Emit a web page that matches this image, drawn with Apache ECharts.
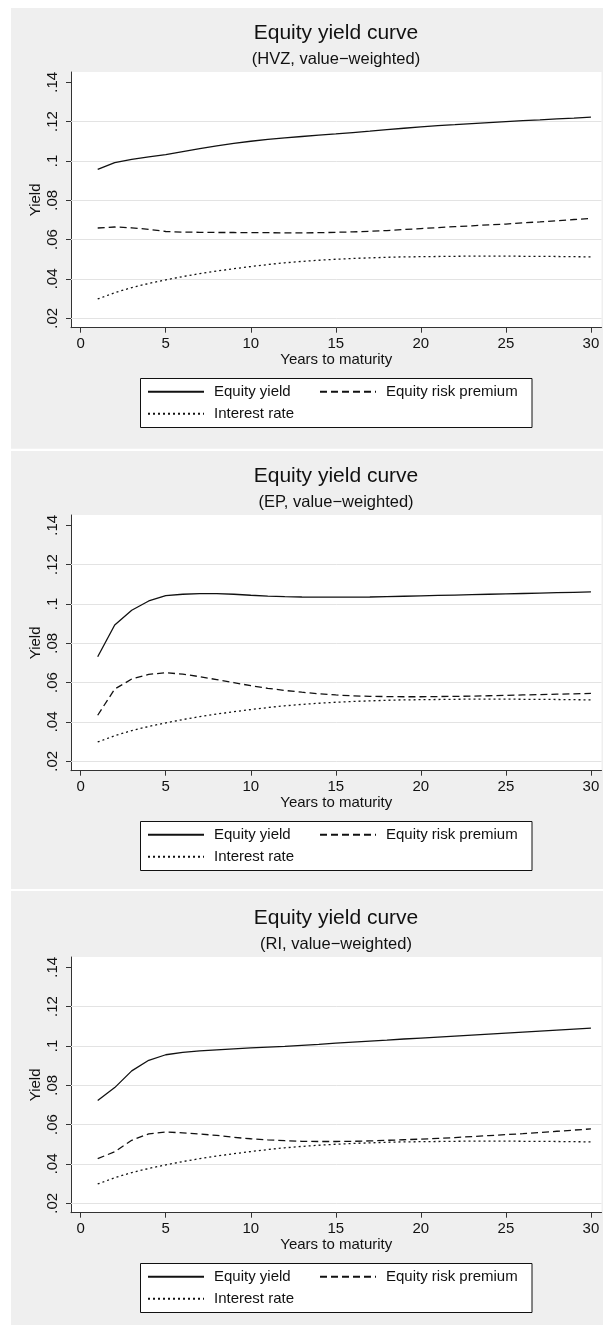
<!DOCTYPE html>
<html>
<head>
<meta charset="utf-8">
<title>Equity yield curve</title>
<script src="https://cdn.jsdelivr.net/npm/echarts@6/dist/echarts.min.js"></script>
<style>
  html, body { margin: 0; padding: 0; background: #ffffff; }
  #chart { width: 603px; height: 1325px; }
</style>
</head>
<body>
<div id="chart"></div>
<script>
// Maturities in years
const maturity = [1, 2, 3, 4, 5, 6, 7, 8, 9, 10, 11, 12, 13, 14, 15, 16, 17, 18, 19, 20, 21, 22, 23, 24, 25, 26, 27, 28, 29, 30];

// Interest rate (same term structure in every panel)
const interestRate = [0.0298, 0.0330, 0.0356, 0.0377, 0.0395, 0.0412, 0.0427, 0.0440, 0.0452, 0.0463,
                      0.0473, 0.0482, 0.0489, 0.0495, 0.0500, 0.0504, 0.0507, 0.0510, 0.0512, 0.0513,
                      0.0514, 0.0515, 0.0516, 0.0516, 0.0516, 0.0515, 0.0515, 0.0514, 0.0513, 0.0512];

// HVZ, value-weighted
const equityYieldHVZ = [0.0957, 0.0991, 0.1008, 0.1021, 0.1032, 0.1047, 0.1062, 0.1076, 0.1089, 0.1100,
                        0.1109, 0.1117, 0.1124, 0.1131, 0.1137, 0.1144, 0.1151, 0.1159, 0.1166, 0.1173,
                        0.1179, 0.1184, 0.1190, 0.1195, 0.1200, 0.1205, 0.1209, 0.1214, 0.1218, 0.1223];
const riskPremiumHVZ = [0.0659, 0.0664, 0.0660, 0.0652, 0.0641, 0.0638, 0.0637, 0.0636, 0.0636, 0.0635,
                        0.0635, 0.0634, 0.0634, 0.0635, 0.0637, 0.0639, 0.0642, 0.0646, 0.0651, 0.0656,
                        0.0661, 0.0666, 0.0670, 0.0675, 0.0679, 0.0685, 0.0690, 0.0696, 0.0702, 0.0708];

// EP, value-weighted
const equityYieldEP = [0.0731, 0.0893, 0.0968, 0.1015, 0.1042, 0.1049, 0.1052, 0.1052, 0.1049, 0.1044,
                       0.1040, 0.1037, 0.1035, 0.1034, 0.1034, 0.1034, 0.1035, 0.1037, 0.1039, 0.1041,
                       0.1043, 0.1045, 0.1047, 0.1049, 0.1051, 0.1053, 0.1055, 0.1057, 0.1059, 0.1061];
const riskPremiumEP = [0.0434, 0.0567, 0.0618, 0.0642, 0.0650, 0.0643, 0.0630, 0.0615, 0.0600, 0.0584,
                       0.0571, 0.0560, 0.0551, 0.0543, 0.0537, 0.0533, 0.0530, 0.0529, 0.0528, 0.0528,
                       0.0529, 0.0530, 0.0531, 0.0533, 0.0535, 0.0537, 0.0539, 0.0541, 0.0543, 0.0545];

// RI, value-weighted
const equityYieldRI = [0.0722, 0.0788, 0.0873, 0.0927, 0.0955, 0.0967, 0.0975, 0.0980, 0.0985, 0.0990,
                       0.0994, 0.0998, 0.1003, 0.1008, 0.1014, 0.1019, 0.1024, 0.1029, 0.1035, 0.1040,
                       0.1045, 0.1050, 0.1055, 0.1060, 0.1065, 0.1070, 0.1075, 0.1080, 0.1085, 0.1090];
const riskPremiumRI = [0.0427, 0.0462, 0.0520, 0.0553, 0.0562, 0.0558, 0.0552, 0.0545, 0.0535, 0.0528,
                       0.0522, 0.0518, 0.0515, 0.0514, 0.0514, 0.0515, 0.0517, 0.0520, 0.0523, 0.0526,
                       0.0530, 0.0534, 0.0539, 0.0544, 0.0549, 0.0554, 0.0560, 0.0566, 0.0572, 0.0578];

// Text and ticks
const chartTitle = 'Equity yield curve';
const panelSubtitles = ['(HVZ, value\u2212weighted)', '(EP, value\u2212weighted)', '(RI, value\u2212weighted)'];
const seriesNames = ['Equity yield', 'Equity risk premium', 'Interest rate'];
const xAxisTitle = 'Years to maturity';
const yAxisTitle = 'Yield';
const xTicks = [0, 5, 10, 15, 20, 25, 30];
const xTickLabels = ['0', '5', '10', '15', '20', '25', '30'];
const yTicks = [0.02, 0.04, 0.06, 0.08, 0.10, 0.12, 0.14];
const yTickLabels = ['.02', '.04', '.06', '.08', '.1', '.12', '.14'];
const yGridValues = [0.02, 0.04, 0.06, 0.08, 0.10, 0.12];

// ---- drawing ----
const FONT = "'Liberation Sans', Arial, Helvetica, sans-serif";
const INK = '#111111';
const AXIS = '#333333';

const panels = [
  { subtitle: panelSubtitles[0], equity: equityYieldHVZ, premium: riskPremiumHVZ },
  { subtitle: panelSubtitles[1], equity: equityYieldEP,  premium: riskPremiumEP },
  { subtitle: panelSubtitles[2], equity: equityYieldRI,  premium: riskPremiumRI }
];

const panelTop = [8, 451, 891];
const panelBottom = [448.7, 889, 1325];
const shift = [0, 443, 885];

function pairs(values) {
  return maturity.map((m, i) => [m, values[i]]);
}
function tickText(ticks, labels, v) {
  const i = ticks.findIndex(t => Math.abs(t - v) < 1e-9);
  return i >= 0 ? labels[i] : '';
}

const lineStyles = [
  { color: INK, width: 1.3, type: 'solid' },
  { color: INK, width: 1.3, type: [7, 4] },
  { color: INK, width: 1.3, type: [2, 3] }
];

const grids = [], xAxes = [], yAxes = [], series = [], titles = [], legends = [], graphics = [];

panels.forEach((pd, p) => {
  const o = shift[p];

  graphics.push({
    type: 'rect', z: -10, silent: true,
    shape: { x: 11, y: panelTop[p], width: 592, height: panelBottom[p] - panelTop[p] },
    style: { fill: '#efefef' }
  });
  graphics.push({
    type: 'rect', z: 2, silent: true,
    shape: { x: 140.5, y: 378.5 + o, width: 391.5, height: 49 },
    style: { fill: '#ffffff', stroke: INK, lineWidth: 1 }
  });

  grids.push({
    left: 71, top: 72 + o, width: 530.5, height: 255.7,
    show: true, backgroundColor: '#ffffff', borderWidth: 0, containLabel: false
  });

  xAxes.push({
    gridIndex: p, type: 'value', min: -0.57, max: 30.62,
    axisLine: { show: true, onZero: false, lineStyle: { color: AXIS, width: 1 } },
    axisTick: { show: true, length: 5, customValues: xTicks, lineStyle: { color: AXIS, width: 1 } },
    axisLabel: {
      customValues: xTicks, margin: 9, fontSize: 15, color: INK, fontFamily: FONT,
      formatter: v => tickText(xTicks, xTickLabels, v)
    },
    splitLine: { show: false },
    name: xAxisTitle, nameLocation: 'middle', nameGap: 25, nameMoveOverlap: false,
    nameTextStyle: { fontSize: 15, color: INK, fontFamily: FONT }
  });

  yAxes.push({
    gridIndex: p, type: 'value', min: 0.0152, max: 0.1452,
    axisLine: { show: true, onZero: false, lineStyle: { color: AXIS, width: 1 } },
    axisTick: { show: true, length: 5, customValues: yTicks, lineStyle: { color: AXIS, width: 1 } },
    axisLabel: {
      customValues: yTicks, rotate: 90, margin: 11, fontSize: 15, color: INK, fontFamily: FONT,
      formatter: v => tickText(yTicks, yTickLabels, v)
    },
    splitLine: { show: false },
    name: yAxisTitle, nameLocation: 'middle', nameGap: 28, nameRotate: 90, nameMoveOverlap: false,
    nameTextStyle: { fontSize: 15, color: INK, fontFamily: FONT }
  });

  // horizontal grid lines
  series.push({
    type: 'line', name: 'gridlines', xAxisIndex: p, yAxisIndex: p, data: [], silent: true,
    markLine: {
      silent: true, z: 1, animation: false, symbol: ['none', 'none'],
      label: { show: false }, emphasis: { disabled: true },
      lineStyle: { color: '#e3e3e3', width: 1, type: 'solid' },
      data: yGridValues.map(v => ({ yAxis: v }))
    }
  });

  [pd.equity, pd.premium, interestRate].forEach((vals, k) => {
    series.push({
      type: 'line', name: seriesNames[k], xAxisIndex: p, yAxisIndex: p,
      data: pairs(vals), symbol: 'none', smooth: false, z: 3,
      itemStyle: { color: INK },
      lineStyle: lineStyles[k], emphasis: { disabled: true }
    });
  });

  titles.push({
    text: chartTitle, left: 336, top: 33 + o, textAlign: 'center', textVerticalAlign: 'middle', padding: 0,
    textStyle: { fontSize: 21, fontWeight: 'normal', color: INK, fontFamily: FONT }
  });
  titles.push({
    text: pd.subtitle, left: 336, top: 59 + o, textAlign: 'center', textVerticalAlign: 'middle', padding: 0,
    textStyle: { fontSize: 16.5, fontWeight: 'normal', color: INK, fontFamily: FONT }
  });

  const legendCommon = {
    orient: 'vertical', top: 383.7 + o, padding: 0, itemGap: 6,
    itemWidth: 56, itemHeight: 14, selectedMode: false, z: 4,
    itemStyle: { opacity: 0, borderWidth: 0 },
    textStyle: { fontSize: 15, lineHeight: 16, color: INK, fontFamily: FONT, padding: [0, 0, 0, 5] }
  };
  legends.push(Object.assign({}, legendCommon, { left: 147, data: [seriesNames[0], seriesNames[2]] }));
  legends.push(Object.assign({}, legendCommon, { left: 319, data: [seriesNames[1]] }));
});

const chart = echarts.init(document.getElementById('chart'), null, { renderer: 'canvas', width: 603, height: 1325 });
chart.setOption({
  animation: false,
  backgroundColor: '#ffffff',
  textStyle: { fontFamily: FONT },
  graphic: { elements: graphics },
  title: titles,
  legend: legends,
  grid: grids,
  xAxis: xAxes,
  yAxis: yAxes,
  series: series
});
</script>
</body>
</html>
